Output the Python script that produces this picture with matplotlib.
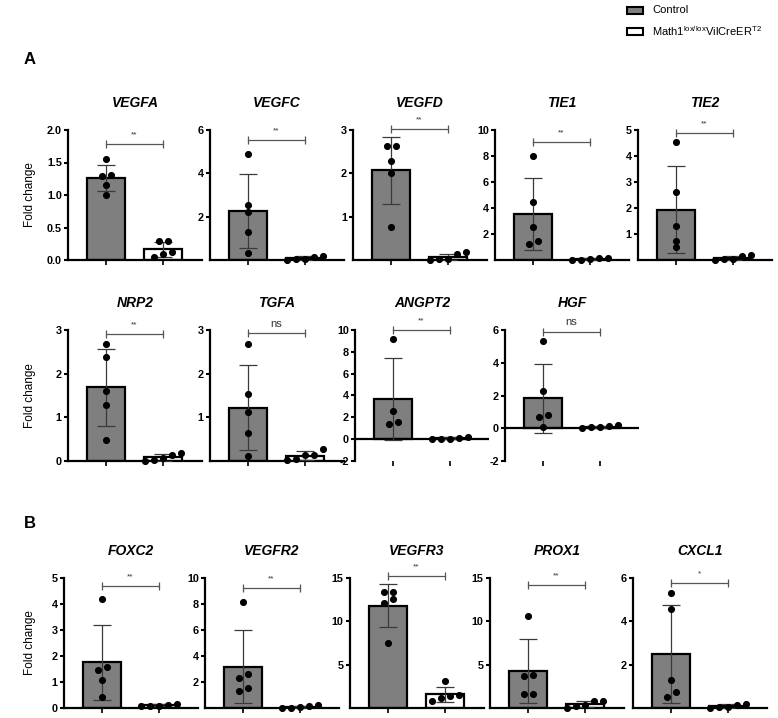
import numpy as np
import matplotlib
matplotlib.use("Agg")
import matplotlib.pyplot as plt
from matplotlib.patches import Rectangle

plt.rcParams['font.family'] = ['Liberation Sans', 'DejaVu Sans']
plt.rcParams['mathtext.default'] = 'regular'

W, H = 778, 718

# ---- data (fold change per mouse) ----
genes = ['VEGFA', 'VEGFC', 'VEGFD', 'TIE1', 'TIE2',
         'NRP2', 'TGFA', 'ANGPT2', 'HGF',
         'FOXC2', 'VEGFR2', 'VEGFR3', 'PROX1', 'CXCL1']
control = [
    [1.55, 1.31, 1.30, 1.15, 1.00],
    [4.88, 2.54, 2.23, 1.28, 0.34],
    [2.64, 2.63, 2.28, 2.01, 0.77],
    [8.00, 4.46, 2.55, 1.45, 1.25],
    [4.54, 2.60, 1.31, 0.75, 0.50],
    [2.68, 2.38, 1.61, 1.28, 0.49],
    [2.67, 1.54, 1.13, 0.65, 0.12],
    [9.20, 2.58, 1.53, 1.35],
    [5.35, 2.25, 0.79, 0.67, 0.08],
    [4.19, 1.58, 1.48, 1.09, 0.42],
    [8.13, 2.63, 2.33, 1.53, 1.30],
    [13.4, 13.4, 12.6, 12.1, 7.48],
    [10.6, 3.76, 3.74, 1.62, 1.58],
    [5.29, 4.56, 1.31, 0.74, 0.49],
]
mutant = [
    [0.29, 0.29, 0.12, 0.10, 0.04],
    [0.05, 0.20, 0.05, 0.15, 0.00],
    [0.13, 0.18, 0.02, 0.00, 0.02],
    [0.05, 0.15, 0.03, 0.12, 0.02],
    [0.04, 0.19, 0.01, 0.15, 0.02],
    [0.19, 0.14, 0.01, 0.03, 0.06],
    [0.27, 0.14, 0.14, 0.04, 0.02],
    [0.02, 0.20, 0.05, 0.15, 0.01],
    [0.06, 0.18, 0.08, 0.14, 0.02],
    [0.09, 0.15, 0.09, 0.13, 0.09],
    [0.05, 0.20, 0.02, 0.12, 0.03],
    [3.09, 1.41, 1.45, 1.15, 0.84],
    [0.83, 0.83, 0.00, 0.26, 0.38],
    [0.05, 0.20, 0.02, 0.13, 0.03],
]
sig = ['**', '**', '**', '**', '**',
       '**', 'ns', '**', 'ns',
       '**', '**', '**', '**', '*']
bracket_y = [1.78, 5.54, 3.03, 9.1, 4.89,
             2.9, 2.92, 10.0, 5.9,
             4.71, 9.23, 15.27, 14.2, 5.75]
ylims = [(0, 2), (0, 6), (0, 3), (0, 10), (0, 5),
         (0, 3), (0, 3), (-2, 10), (-2, 6),
         (0, 5), (0, 10), (0, 15), (0, 15), (0, 6)]
yticks = [[0, 0.5, 1.0, 1.5, 2.0], [2, 4, 6], [1, 2, 3], [2, 4, 6, 8, 10], [1, 2, 3, 4, 5],
          [0, 1, 2, 3], [1, 2, 3], [-2, 0, 2, 4, 6, 8, 10], [-2, 0, 2, 4, 6],
          [0, 1, 2, 3, 4, 5], [2, 4, 6, 8, 10], [5, 10, 15], [5, 10, 15], [2, 4, 6]]

# ---- layout in pixels: (left, top, bottom) of each panel ----
rows = [
    ([68, 210, 353, 495, 638], 130, 260),
    ([68, 210, 355, 505], 330, 461),
    ([64, 205, 350, 490, 633], 578, 708),
]
AX_W = 134
GREY = '#7f7f7f'

fig = plt.figure(figsize=(W / 100, H / 100), dpi=100)


def swarm(ax, x0, vals, step=9, gap=6):
    # dots closer than `gap` px vertically are spread into a row
    ys = ax.transData.transform([(x0, v) for v in vals])[:, 1]
    px0 = ax.transData.transform((x0, 0))[0]
    order = np.argsort(ys)
    groups = [[order[0]]]
    for i in order[1:]:
        if ys[i] - ys[groups[-1][-1]] < gap:
            groups[-1].append(i)
        else:
            groups.append([i])
    xs = np.zeros(len(vals))
    for g in groups:
        for k, i in enumerate(g):
            xs[i] = px0 + (k - (len(g) - 1) / 2) * step
    pts = ax.transData.inverted().transform(np.column_stack([xs, ys]))
    ax.plot(pts[:, 0], pts[:, 1], 'o', color='black', ms=4.1, zorder=5, clip_on=False)


k = 0
for lefts, top, bottom in rows:
    for j, left in enumerate(lefts):
        ax = fig.add_axes([left / W, 1 - bottom / H, AX_W / W, (bottom - top) / H])
        ax.set_xlim(-0.667, 1.684)
        ax.set_ylim(*ylims[k])
        for s in ['top', 'right']:
            ax.spines[s].set_visible(False)
        ax.spines['left'].set_linewidth(1.6)
        ax.spines['bottom'].set_linewidth(1.6)
        if ylims[k][0] < 0:
            ax.spines['bottom'].set_visible(False)
            ax.axhline(0, color='black', lw=1.6, zorder=3)

        for x, vals, fc in [(0, control[k], GREY), (1, mutant[k], 'white')]:
            m = np.mean(vals)
            sd = np.std(vals, ddof=1)
            ax.bar(x, m, width=0.65, color=fc, edgecolor='black', lw=1.6, zorder=2)
            ax.errorbar(x, m, yerr=sd, color='#3a3a3a', lw=0.9, capsize=6.5,
                        capthick=0.9, zorder=4)
            swarm(ax, x, vals)

        # significance bracket
        by = bracket_y[k]
        ax.plot([0, 1], [by, by], color='#555555', lw=0.9, clip_on=False)
        ax.plot([0, 1], [by, by], ls='none', marker='|', ms=6, mew=0.9,
                color='#555555', clip_on=False)
        if sig[k] == 'ns':
            ax.annotate('ns', (0.5, by), xytext=(0, 4.5), textcoords='offset points',
                        ha='center', va='baseline', fontsize=8, color='#333333',
                        annotation_clip=False)
        else:
            ax.annotate(sig[k], (0.5, by), xytext=(0, 5.5), textcoords='offset points',
                        ha='center', va='baseline', fontsize=6, color='#333333',
                        annotation_clip=False)

        ax.set_xticks([0, 1])
        ax.set_xticklabels(['', ''])
        ax.tick_params(axis='x', length=3.5, width=1.2)
        ax.set_yticks(yticks[k])
        if any(t != int(t) for t in yticks[k]):
            ax.set_yticklabels([f'{t:.1f}' for t in yticks[k]])
        else:
            ax.set_yticklabels([str(int(t)) for t in yticks[k]])
        ax.tick_params(axis='y', length=3, width=1.5, pad=1.5, labelsize=7.8)
        for lab in ax.get_yticklabels():
            lab.set_fontweight('bold')

        ax.text(0.5, 1 + 27 / (bottom - top), genes[k], transform=ax.transAxes,
                ha='center', va='center', fontsize=10, fontweight='bold', style='italic')
        if j == 0:
            fig.text(30 / W, 1 - (top + bottom) / 2 / H, 'Fold change', rotation=90,
                     ha='center', va='center', fontsize=8.5)
        k += 1

# panel letters
fig.text(30 / W, 1 - 60 / H, 'A', ha='center', va='center', fontsize=12, fontweight='bold')
fig.text(30 / W, 1 - 523 / H, 'B', ha='center', va='center', fontsize=12, fontweight='bold')

# legend
for y, fc, label in [(10, GREY, 'Control'),
                     (31, 'white', r'Math1$^{lox/lox}$VilCreER$^{T2}$')]:
    fig.patches.append(Rectangle((627 / W, 1 - (y + 3.5) / H), 16 / W, 7 / H,
                                 transform=fig.transFigure, facecolor=fc,
                                 edgecolor='black', lw=1.5))
    fig.text(652 / W, 1 - y / H, label, ha='left', va='center', fontsize=8)

fig.savefig('out.png', dpi=100)
